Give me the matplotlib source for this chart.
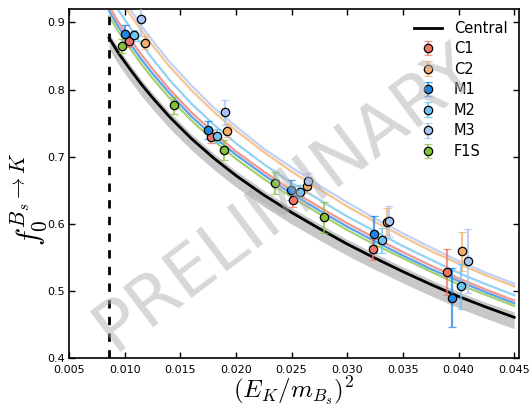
import numpy as np
import matplotlib
matplotlib.use("Agg")
import matplotlib.pyplot as plt

plt.rcParams['mathtext.fontset'] = 'cm'

# ---- data ----
labels = ["C1", "C2", "M1", "M2", "M3", "F1S"]

c1_x = [0.01042, 0.01778, 0.02508, 0.03232, 0.03897]
c1_y = [0.872, 0.730, 0.635, 0.562, 0.528]
c1_e = [0.008, 0.010, 0.010, 0.016, 0.034]

c2_x = [0.0118, 0.0192, 0.0264, 0.0336, 0.04029]
c2_y = [0.870, 0.739, 0.656, 0.603, 0.559]
c2_e = [0.010, 0.010, 0.010, 0.020, 0.029]

m1_x = [0.0100, 0.01751, 0.02494, 0.03239, 0.03942]
m1_y = [0.883, 0.740, 0.650, 0.5845, 0.490]
m1_e = [0.013, 0.013, 0.015, 0.028, 0.044]

m2_x = [0.01081, 0.0183, 0.02577, 0.03316, 0.0402]
m2_y = [0.881, 0.731, 0.648, 0.5756, 0.507]
m2_e = [0.008, 0.010, 0.010, 0.019, 0.034]

m3_x = [0.01147, 0.01898, 0.02643, 0.03376, 0.04088]
m3_y = [0.905, 0.766, 0.664, 0.604, 0.545]
m3_e = [0.025, 0.018, 0.012, 0.023, 0.048]

f1s_x = [0.00977, 0.0144, 0.01892, 0.02347, 0.02793]
f1s_y = [0.865, 0.7765, 0.710, 0.661, 0.610]
f1s_e = [0.010, 0.013, 0.015, 0.017, 0.023]

fit_x = [0.0086, 0.0095, 0.0105, 0.0115, 0.0125, 0.014, 0.016, 0.018, 0.020,
         0.0225, 0.025, 0.0275, 0.030, 0.0325, 0.035, 0.0375, 0.040, 0.0425, 0.045]
central = [0.877, 0.853, 0.830, 0.808, 0.788, 0.760, 0.727, 0.698, 0.672,
           0.643, 0.617, 0.593, 0.570, 0.549, 0.529, 0.510, 0.492, 0.476, 0.461]
central_hi = [0.884, 0.860, 0.837, 0.815, 0.795, 0.767, 0.734, 0.705, 0.679,
              0.650, 0.624, 0.600, 0.577, 0.556, 0.536, 0.517, 0.499, 0.483, 0.469]
central_lo = [0.860, 0.836, 0.813, 0.791, 0.771, 0.743, 0.710, 0.681, 0.655,
              0.626, 0.600, 0.576, 0.553, 0.532, 0.512, 0.493, 0.475, 0.459, 0.444]
fit_f1s = [0.909, 0.885, 0.861, 0.838, 0.817, 0.788, 0.754, 0.724, 0.697,
           0.667, 0.640, 0.615, 0.591, 0.569, 0.549, 0.529, 0.510, 0.494, 0.478]
fit_m1 = [0.917, 0.892, 0.868, 0.845, 0.824, 0.795, 0.760, 0.730, 0.703,
          0.673, 0.645, 0.620, 0.596, 0.574, 0.553, 0.533, 0.515, 0.498, 0.482]
fit_c1 = [0.924, 0.899, 0.875, 0.852, 0.831, 0.801, 0.766, 0.736, 0.708,
          0.678, 0.650, 0.625, 0.601, 0.579, 0.558, 0.538, 0.519, 0.502, 0.486]
fit_m2 = [0.942, 0.917, 0.892, 0.868, 0.846, 0.815, 0.779, 0.748, 0.720,
          0.689, 0.661, 0.636, 0.611, 0.589, 0.567, 0.547, 0.527, 0.510, 0.494]
fit_c2 = [0.964, 0.937, 0.912, 0.888, 0.866, 0.835, 0.799, 0.767, 0.739,
          0.707, 0.678, 0.652, 0.626, 0.603, 0.581, 0.560, 0.541, 0.523, 0.507]
fit_m3 = [0.972, 0.945, 0.920, 0.895, 0.873, 0.842, 0.806, 0.773, 0.745,
          0.712, 0.684, 0.657, 0.632, 0.608, 0.586, 0.565, 0.545, 0.527, 0.511]

x_cut = 0.00856
x_ticks = [0.005, 0.010, 0.015, 0.020, 0.025, 0.030, 0.035, 0.040, 0.045]
y_ticks = [0.4, 0.5, 0.6, 0.7, 0.8, 0.9]

# ---- style ----
colors = {"C1": "#f07468", "C2": "#f4b06a", "M1": "#1f86e6",
          "M2": "#6fc3f2", "M3": "#a9c4f5", "F1S": "#86c13c"}

fig = plt.figure(figsize=(5.32, 4.07), dpi=100)
ax = fig.add_axes([0.1297, 0.1197, 0.8459, 0.8582])

ax.fill_between(fit_x, central_lo, central_hi, color="#c8c8c8", lw=0, zorder=1)

fits = [("F1S", fit_f1s), ("M1", fit_m1), ("C1", fit_c1),
        ("M2", fit_m2), ("C2", fit_c2), ("M3", fit_m3)]
for name, vals in fits:
    ax.plot(fit_x, vals, color=colors[name], lw=1.6, alpha=0.75, zorder=2)

ax.plot(fit_x, central, color="black", lw=2.0, zorder=3, label="Central")

series = [("C1", c1_x, c1_y, c1_e), ("C2", c2_x, c2_y, c2_e),
          ("M1", m1_x, m1_y, m1_e), ("M2", m2_x, m2_y, m2_e),
          ("M3", m3_x, m3_y, m3_e), ("F1S", f1s_x, f1s_y, f1s_e)]
for name, xs, ys, es in series:
    eb = ax.errorbar(xs, ys, yerr=es, fmt="o", color=colors[name],
                     ecolor=colors[name], markerfacecolor=colors[name],
                     markeredgecolor="black", markeredgewidth=0.9,
                     markersize=6, elinewidth=1.6, capsize=3, capthick=1.2,
                     zorder=4, label=name)
    for art in eb[1] + eb[2]:
        art.set_alpha(0.75)

ax.axvline(x_cut, color="black", lw=2, ls=(0, (3, 3)), zorder=5)

ax.text(0.48, 0.46, "PRELIMINARY", transform=ax.transAxes, fontsize=50,
        color="#b0b0b0", alpha=0.5, rotation=37, ha="center", va="center",
        zorder=6)

ax.set_xlim(0.005, 0.04543)
ax.set_ylim(0.4, 0.92)
ax.set_xticks(x_ticks)
ax.set_xticklabels([f"{v:.3f}" for v in x_ticks])
ax.set_yticks(y_ticks)
ax.set_yticklabels([f"{v:.1f}" for v in y_ticks])
ax.tick_params(direction="in", top=True, right=True, labelsize=8,
               length=4.5, width=1)
ax.tick_params(axis="x", pad=4.5)
ax.tick_params(axis="y", pad=3)
for s in ax.spines.values():
    s.set_linewidth(1.2)

ax.set_xlabel(r"$(E_K/m_{B_s})^2$", fontsize=18, labelpad=0)
ax.set_ylabel(r"$f_0^{B_s\to K}$", fontsize=22)
ax.yaxis.set_label_coords(-0.045, 0.455)

ax.legend(loc="upper right", frameon=False, fontsize=10.5, handlelength=1.9,
          borderaxespad=0.4, labelspacing=0.38, handletextpad=0.8,
          numpoints=1)

fig.savefig("out.png", dpi=100)
